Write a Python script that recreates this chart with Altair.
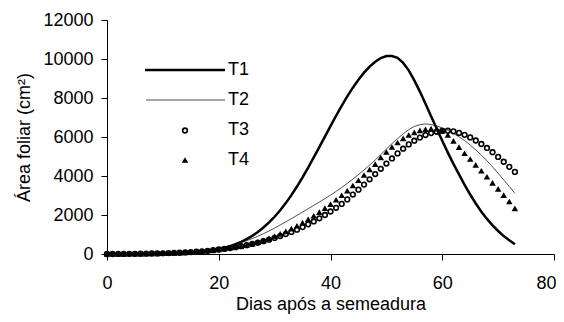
import altair as alt
import pandas as pd

days = list(range(74))

t1 = [0, 0, 0, 5, 5, 10, 10, 15, 20, 25, 30, 40, 50, 60, 75, 90, 110, 140, 170, 210,
      260, 320, 400, 500, 620, 760, 930, 1130, 1360, 1620, 1910, 2240, 2610, 3020, 3460, 3930, 4430, 4950, 5480, 6020,
      6560, 7090, 7600, 8080, 8530, 8940, 9300, 9610, 9860, 10050, 10150, 10150, 10060, 9800, 9420, 8900, 8330, 7700, 7060, 6440,
      5810, 5200, 4620, 4080, 3550, 3050, 2590, 2170, 1800, 1470, 1180, 920, 700, 500]

t2 = [0, 0, 5, 5, 10, 10, 15, 20, 25, 30, 40, 50, 60, 75, 90, 110, 130, 160, 190, 230,
      280, 340, 410, 490, 580, 680, 790, 910, 1040, 1180, 1330, 1490, 1650, 1810, 1980, 2150, 2320, 2490, 2660, 2840,
      3020, 3210, 3410, 3620, 3840, 4070, 4310, 4560, 4820, 5100, 5380, 5660, 5920, 6160, 6380, 6540, 6630, 6670, 6640, 6570,
      6470, 6340, 6190, 6010, 5820, 5590, 5340, 5070, 4780, 4470, 4140, 3800, 3460, 3110]

t3 = [0, 0, 5, 5, 10, 10, 15, 20, 25, 30, 35, 45, 55, 65, 80, 95, 115, 140, 165, 195,
      230, 265, 305, 350, 400, 455, 515, 580, 655, 735, 825, 920, 1020, 1130, 1250, 1380, 1520, 1670, 1830, 2000,
      2180, 2370, 2570, 2800, 3050, 3300, 3560, 3830, 4100, 4370, 4640, 4900, 5160, 5400, 5620, 5810, 5970, 6100, 6200, 6270,
      6310, 6320, 6290, 6210, 6110, 5980, 5820, 5640, 5440, 5220, 4980, 4730, 4470, 4210]

t4 = [0, 0, 5, 5, 10, 10, 15, 20, 25, 30, 35, 45, 55, 65, 80, 95, 115, 140, 170, 200,
      230, 270, 320, 370, 400, 460, 530, 610, 700, 800, 910, 1030, 1160, 1300, 1450, 1610, 1780, 1960, 2150, 2350,
      2560, 2780, 3010, 3250, 3510, 3780, 4050, 4330, 4610, 4950, 5230, 5490, 5720, 5930, 6100, 6240, 6340, 6400, 6430, 6420,
      6320, 6100, 5800, 5480, 5170, 4870, 4570, 4270, 3960, 3650, 3340, 3020, 2690, 2340]

legend_names = ["T1", "T2", "T3", "T4"]
x_ticks = [0, 20, 40, 60, 80]
y_ticks = [0, 2000, 4000, 6000, 8000, 10000, 12000]

df = pd.DataFrame({"dia": days, "T1": t1, "T2": t2, "T3": t3, "T4": t4})

FONT = "Liberation Sans"
FS = 18

xs = alt.X("dia:Q", scale=alt.Scale(domain=[0, 80], nice=False),
           axis=alt.Axis(values=x_ticks, title="Dias após a semeadura", tickSize=6, format="d",
                         labelFlush=False,
                         labelAlign={"condition": {"test": "datum.value >= 80", "value": "right"}, "value": "center"},
                         labelOffset={"condition": {"test": "datum.value >= 80", "value": 2}, "value": 0},
                         labelPadding=14, titlePadding=3))
ys_axis = alt.Axis(values=y_ticks, title="Área foliar (cm²)", tickSize=6, format="d",
                   labelFlush=False, labelPadding=8, titlePadding=9)
yscale = alt.Scale(domain=[0, 12000], nice=False)

base = alt.Chart(df)

l1 = base.mark_line(color="black", strokeWidth=2.5).encode(
    x=xs, y=alt.Y("T1:Q", scale=yscale, axis=ys_axis))
l2 = base.mark_line(color="#222222", strokeWidth=0.8).encode(
    x=xs, y=alt.Y("T2:Q", scale=yscale, axis=ys_axis))
p3 = base.mark_point(shape="circle", filled=False, color="black", size=22, strokeWidth=1.6, opacity=1).encode(
    x=xs, y=alt.Y("T3:Q", scale=yscale, axis=ys_axis))
p4 = base.mark_point(shape="triangle-up", filled=True, color="black", size=42, opacity=1).encode(
    x=xs, y=alt.Y("T4:Q", scale=yscale, axis=ys_axis))

# manual legend
def lab(name):
    return alt.Chart(pd.DataFrame({"s": [name]}))

leg1 = lab(legend_names[0]).mark_rule(color="black", strokeWidth=2.5).encode(
    x=alt.value(38), x2=alt.value(118), y=alt.value(50))
leg2 = lab(legend_names[1]).mark_rule(color="#222222", strokeWidth=0.8).encode(
    x=alt.value(39), x2=alt.value(118), y=alt.value(80))
leg3 = lab(legend_names[2]).mark_point(shape="circle", filled=False, color="black", size=22, strokeWidth=1.6, opacity=1).encode(
    x=alt.value(78), y=alt.value(110.5))
leg4 = lab(legend_names[3]).mark_point(shape="triangle-up", filled=True, color="black", size=42, opacity=1).encode(
    x=alt.value(78), y=alt.value(140))

texts = []
for i, n in enumerate(legend_names):
    texts.append(lab(n).mark_text(align="left", baseline="middle", font=FONT, fontSize=FS, color="black").encode(
        text="s:N", x=alt.value(121), y=alt.value(50 + 30 * i)))

chart = alt.layer(l1, l2, p3, p4, leg1, leg2, leg3, leg4, *texts).properties(
    width=447, height=234,
    autosize=alt.AutoSizeParams(type="none"),
    padding={"left": 99, "top": 12, "right": 2, "bottom": 60},
    background="white",
).configure_view(stroke=None).configure_axis(
    grid=False, domainColor="black", tickColor="black", labelColor="black", titleColor="black",
    labelFont=FONT, titleFont=FONT, labelFontSize=FS, titleFontSize=FS, titleFontWeight="normal",
    domainWidth=1, tickWidth=1,
)

chart.save("out.html", embed_options={"renderer": "svg", "actions": False})
